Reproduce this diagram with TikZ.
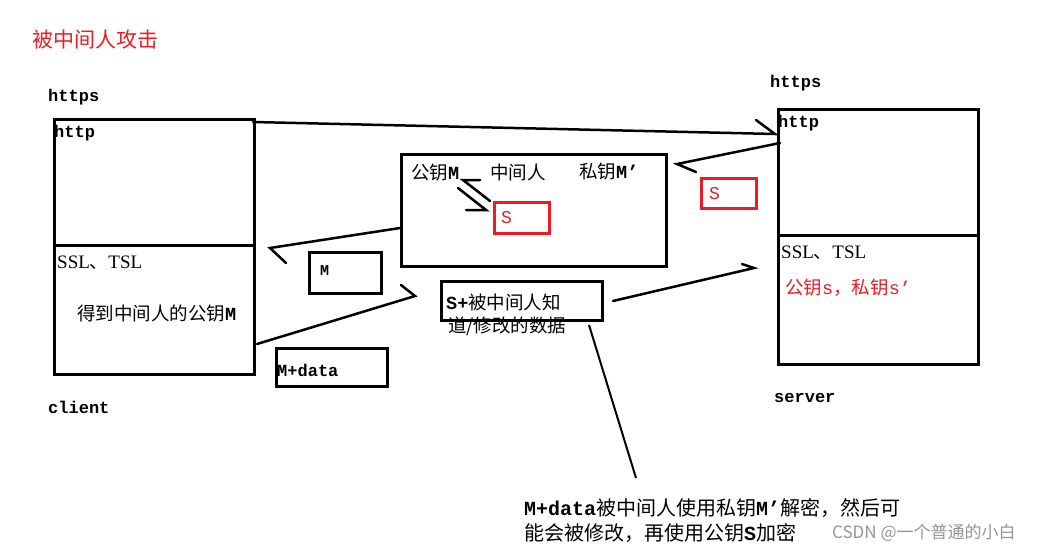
\documentclass[tikz,border=0pt]{standalone}
\usepackage{fontspec}
\setmainfont{Noto Sans CJK SC}
\newfontfamily\monof{Liberation Mono}
\newfontfamily\seriff{Liberation Serif}
\definecolor{pred}{RGB}{237,28,36}
\definecolor{wmgray}{RGB}{150,150,150}
\begin{document}
\begin{tikzpicture}[x=1pt,y=-1pt,
  box/.style={draw,line width=3pt,inner sep=0pt,anchor=north west},
  thinbox/.style={draw,line width=2.5pt,inner sep=0pt,anchor=north west},
  redbox/.style={draw=pred,line width=2.5pt,inner sep=0pt,anchor=north west},
  lbl/.style={anchor=west,inner sep=0pt,font=\fontsize{18.5}{20}\selectfont},
  mono/.style={anchor=west,inner sep=0pt,font=\monof\bfseries\fontsize{17}{19}\selectfont},
  conn/.style={line width=2.5pt,line cap=round,line join=miter}]
\useasboundingbox (0,0) rectangle (1055,552);
\fill[white] (0,0) rectangle (1055,552);

% title
\node[lbl,text=pred,font=\fontsize{21}{23}\selectfont] (title) at (32,40) {被中间人攻击};

% client
\node[mono] (chttps) at (48,97) {https};
\node[box,minimum width=200pt,minimum height=126pt] (ctop) at (53,118) {};
\node[box,minimum width=200pt,minimum height=129pt] (cbot) at (53,244) {};
\node[mono] (chttp) at (54,133) {http};
\node[lbl] (cssl) at (57,263) {{\seriff\fontsize{19}{20}\selectfont SSL}、{\seriff\fontsize{19}{20}\selectfont TSL}};
\node[lbl] (cget) at (77,313) {得到中间人的公钥{\monof\bfseries M}};
\node[mono] (cname) at (48,407) {client};

% server
\node[mono] (shttps) at (770,83) {https};
\node[box,minimum width=200pt,minimum height=126pt] (stop) at (777,108) {};
\node[box,minimum width=200pt,minimum height=129pt] (sbot) at (777,234) {};
\node[mono] (shttp) at (778,123) {http};
\node[lbl] (sssl) at (781,253) {{\seriff\fontsize{19}{20}\selectfont SSL}、{\seriff\fontsize{19}{20}\selectfont TSL}};
\node[lbl,text=pred] (skeys) at (785,288) {公钥{\monof s}，私钥{\monof s’}};
\node[mono] (sname) at (774,398) {server};

% man in the middle
\node[box,minimum width=265pt,minimum height=112pt] (mitm) at (400,153) {};
\node[lbl] (mpub) at (411,173) {公钥{\monof\bfseries M}};
\node[lbl] (mname) at (490,172) {中间人};
\node[lbl] (mpriv) at (579,172) {私钥{\monof\bfseries M’}};
\node[redbox,minimum width=55pt,minimum height=31pt] (ms) at (493,201) {};
\node[lbl,text=pred,font=\monof\fontsize{18}{19}\selectfont] at (501,218) {S};

% exchange arrows inside
\coordinate (x1a) at (458,188); \coordinate (x1b) at (486,210); \coordinate (x1c) at (466,210);
\coordinate (x2a) at (490,201); \coordinate (x2b) at (463,180); \coordinate (x2c) at (480,180);
\draw[conn] (x1a) -- (x1b) -- (x1c);
\draw[conn] (x2a) -- (x2b) -- (x2c);

% packet boxes
\node[redbox,minimum width=55pt,minimum height=30pt] (ss) at (700,177) {};
\node[lbl,text=pred,font=\monof\fontsize{18}{19}\selectfont] at (709,194) {S};
\node[thinbox,minimum width=72pt,minimum height=41pt] (mbox) at (308,251) {};
\node[mono,font=\monof\bfseries\fontsize{15}{17}\selectfont] at (320,271) {M};
\node[thinbox,minimum width=111pt,minimum height=38pt] (mdata) at (275,347) {};
\node[mono] at (277,370) {M+data};
\node[thinbox,minimum width=161pt,minimum height=39pt] (sdata) at (440,280) {};
\node[lbl] (sd1) at (446,302) {{\monof\bfseries S+}被中间人知};
\node[lbl] (sd2) at (448,326) {道/修改的数据};

% connectors
\coordinate (a1s) at (253,122); \coordinate (a1e) at (775,134); \coordinate (a1b) at (756,120);
\draw[conn] (a1s) -- (a1e) -- (a1b);
\coordinate (a2s) at (780,143); \coordinate (a2e) at (677,164); \coordinate (a2b) at (696,172);
\draw[conn] (a2s) -- (a2e) -- (a2b);
\coordinate (a3s) at (400,228); \coordinate (a3e) at (270,248); \coordinate (a3b) at (286,263);
\draw[conn] (a3s) -- (a3e) -- (a3b);
\coordinate (a4s) at (257,344); \coordinate (a4e) at (415,296); \coordinate (a4b) at (401,285);
\draw[conn] (a4s) -- (a4e) -- (a4b);
\coordinate (a5s) at (613,301); \coordinate (a5e) at (754,268); \coordinate (a5b) at (742,264);
\draw[conn] (a5s) -- (a5e) -- (a5b);

% note
\node[lbl,font=\fontsize{20}{22}\selectfont] (note1) at (524,508) {{\monof\bfseries M+data}被中间人使用私钥{\monof\bfseries M’}解密，然后可};
\node[lbl,font=\fontsize{20}{22}\selectfont] (note2) at (524,533) {能会被修改，再使用公钥{\monof\bfseries S}加密};
\coordinate (ptr) at (589,325);
\coordinate (ptrend) at (636,478);
\draw[line width=2pt] (ptr) -- (ptrend);

% watermark
\node[lbl,text=wmgray,font=\fontsize{17}{19}\selectfont] (wm) at (832,533) {CSDN @一个普通的小白};
\end{tikzpicture}
\end{document}
